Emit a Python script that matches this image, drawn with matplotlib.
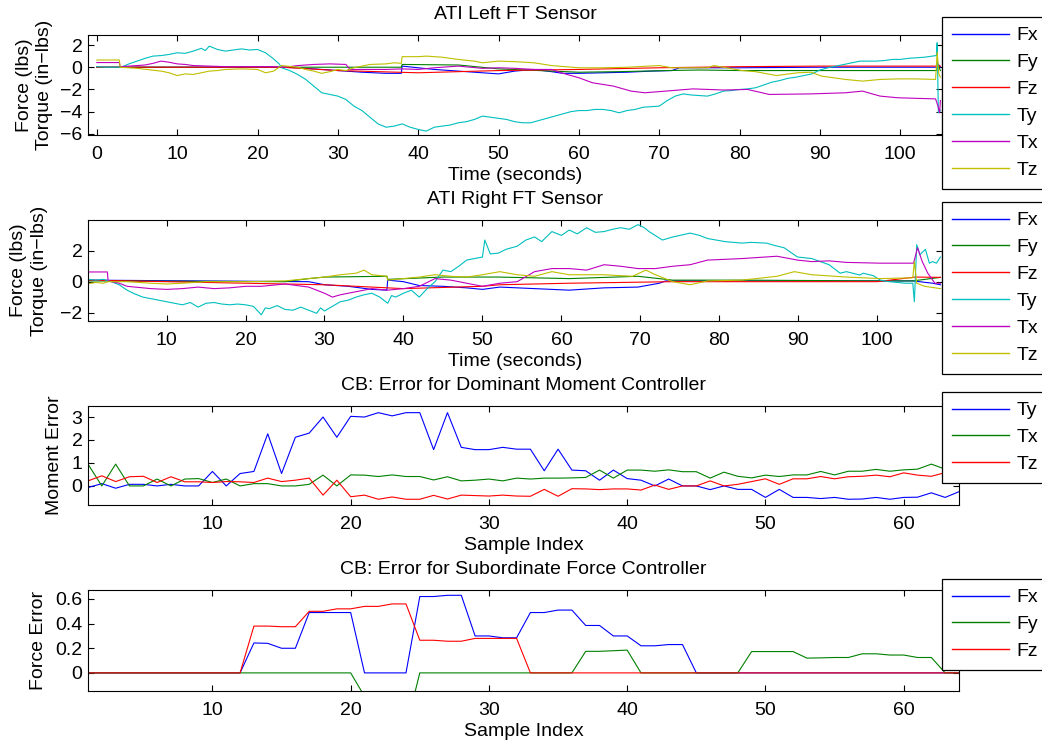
import matplotlib
matplotlib.use("Agg")
import matplotlib.pyplot as plt
import numpy as np

plt.rcParams['font.family'] = ['Liberation Sans', 'DejaVu Sans']
plt.rcParams['font.size'] = 14

# MATLAB default line colours
C_B = (0, 0, 1)
C_G = (0, 0.5, 0)
C_R = (1, 0, 0)
C_C = (0, 0.75, 0.75)
C_M = (0.75, 0, 0.75)
C_Y = (0.75, 0.75, 0)

# ---------------- ATI Left FT sensor ----------------
left_fx_t = [0, 23, 25, 28, 30, 33, 36, 37.9, 38, 40, 42, 45, 48, 50, 52, 54.4, 56.6, 58, 60, 63, 66, 69, 71.6, 72.5, 80, 90, 100, 104.5, 104.7, 105]
left_fx = [0, 0, -0.05, -0.2, -0.3, -0.45, -0.55, -0.55, 0.1, -0.05, -0.2, -0.35, -0.5, -0.6, -0.35, -0.2, -0.4, -0.55, -0.55, -0.5, -0.45, -0.35, -0.3, -0.05, -0.05, 0, 0, 0, 0.3, 0]
left_fy_t = [0, 37.9, 38, 45, 50, 55, 60, 65, 71, 75, 80, 104.5, 104.7, 105]
left_fy = [0, 0, 0.25, 0.2, -0.15, -0.3, -0.45, -0.4, -0.3, -0.25, -0.3, -0.3, 0.2, -0.3]
left_fz_t = [0, 23, 30, 35, 40, 45, 50, 60, 70, 80, 90, 100, 105]
left_fz = [0, 0, -0.3, -0.4, -0.5, -0.4, -0.3, -0.2, -0.05, 0.05, 0.1, 0.1, 0.1]
left_ty_t = [0, 1, 2, 3, 4, 5, 6, 7, 8, 9, 10, 11, 12, 13, 13.5, 14, 15, 16, 17, 18, 19, 20, 21, 22, 22.7,
             23, 24, 25, 26, 27, 28, 29, 30, 31, 32, 33, 34, 35, 36, 37, 38, 39, 40, 41, 42, 43, 44, 45,
             46, 47, 48, 49, 50, 51, 52, 53, 54, 55, 56, 57, 58, 59, 60, 61, 62, 63, 64, 65, 66, 67, 68,
             69, 70, 71, 72, 73, 74, 75, 76, 77, 78, 79, 80, 81, 82, 83, 84, 85, 86, 87, 88, 89, 90, 91,
             92, 93, 94, 95, 96, 97, 98, 99, 100, 101, 102, 103, 104, 104.5, 104.6, 104.75, 105]
left_ty = [0.05, 0.0, 0.0, 0.0, 0.3, 0.55, 0.8, 1.0, 1.05, 1.15, 1.3, 1.25, 1.45, 1.7, 1.5, 1.9, 1.6, 1.45, 1.55, 1.65, 1.55, 1.6, 1.3, 0.75, 0.3,
           -0.05, -0.3, -0.65, -1.1, -1.7, -2.3, -2.45, -2.6, -2.9, -3.5, -3.9, -4.5, -5.1, -5.4, -5.3, -5.1, -5.4, -5.6, -5.75, -5.4, -5.3, -5.2, -5.0,
           -4.9, -4.7, -4.4, -4.5, -4.6, -4.7, -4.9, -5.0, -5.0, -4.8, -4.6, -4.4, -4.2, -4.0, -3.9, -3.9, -3.8, -3.8, -3.9, -4.1, -3.9, -3.8, -3.6,
           -3.55, -3.5, -3.0, -2.6, -2.4, -2.5, -2.55, -2.6, -2.4, -2.15, -2.1, -2.0, -1.95, -1.85, -1.6, -1.35, -1.2, -1.0, -0.9, -0.75, -0.6, -0.25, -0.05,
           0.1, 0.25, 0.4, 0.55, 0.55, 0.55, 0.6, 0.7, 0.7, 0.8, 0.85, 0.9, 1.0, 1.05, 2.2, -4.1, -3.9]
left_tx_t = [0, 2.8, 2.9, 4, 6, 7, 8, 9, 10, 11, 12, 14, 16, 18, 20, 22, 23, 24, 25, 27, 29, 31, 31.5, 34, 36, 38, 40, 42, 45, 48, 50,
             52, 54.4, 56.6, 57.8, 60, 61.7, 64.3, 66.5, 68.2, 70.8, 74.2, 78, 81, 83.7, 88.9, 93.2, 95.3, 97.5, 99.7, 102, 104.4, 104.7, 104.9, 105]
left_tx = [0.42, 0.42, 0.05, 0.1, 0.2, 0.35, 0.55, 0.45, 0.3, 0.25, 0.15, 0.1, 0.05, 0.05, 0.05, 0.05, 0.0, 0.05, 0.15, 0.25, 0.3, 0.25, -0.2, -0.2, -0.2, -0.15, -0.2, -0.05, 0.1, -0.1, -0.05,
           -0.1, -0.2, -0.2, -0.5, -0.95, -1.4, -1.7, -2.15, -2.3, -2.15, -1.95, -2.05, -2.0, -2.45, -2.4, -2.3, -2.15, -2.6, -2.75, -2.8, -2.85, -3.5, -4.1, -3.0]
left_tz_t = [0, 2.8, 2.9, 5, 8, 9, 10, 11, 12, 13, 14, 15, 16, 18, 20, 21, 22, 23, 25, 26, 27, 28, 29, 30, 31, 32, 34, 36, 37, 37.9, 38,
             40, 41, 43, 45, 47, 48, 50, 52, 54.4, 56.6, 60, 63, 66, 70, 71.6, 76, 76.8, 78, 80.3, 82, 84.6, 87.2, 88.9, 90.2, 93.2, 95.3,
             97.5, 99.7, 102, 104.4, 104.6, 104.8, 105]
left_tz = [0.65, 0.65, 0.0, -0.1, -0.35, -0.5, -0.75, -0.6, -0.65, -0.5, -0.35, -0.3, -0.2, -0.15, -0.2, -0.5, -0.35, 0.15, 0.0, -0.2, -0.35, -0.55, -0.4, -0.2, -0.3, -0.05, 0.25, 0.3, 0.4, 0.35, 0.95,
           0.95, 1.0, 0.9, 0.7, 0.55, 0.4, 0.55, 0.5, 0.4, 0.15, -0.05, -0.05, 0.0, 0.15, -0.05, -0.05, 0.15, 0.0, -0.3, -0.4, -0.75, -0.5, -0.45, -0.8, -1.1, -1.25,
           -1.1, -1.05, -1.05, -1.1, 1.35, -0.6, -0.9]

# ---------------- ATI Right FT sensor ----------------
right_fx_t = [0.05, 28, 30, 33, 36, 37.9, 38, 40, 42, 45, 48, 50, 52.2, 56.6, 61, 65.4, 69.7, 72.4, 73.2, 100, 104.5, 107, 108]
right_fx = [0.1, 0.0, -0.2, -0.3, -0.5, -0.55, 0.1, 0.0, -0.25, -0.3, -0.4, -0.5, -0.35, -0.45, -0.55, -0.4, -0.35, -0.1, 0.05, 0.05, 0.05, -0.1, -0.2]
right_fy_t = [0.05, 25, 28, 30, 37.9, 38, 45, 50, 52, 61, 69.7, 74.1, 82.9, 100, 104.5, 108]
right_fy = [0.05, 0.0, 0.2, 0.3, 0.35, 0.15, 0.3, 0.3, 0.3, 0.2, 0.35, 0.1, 0.1, 0.05, 0.05, 0.28]
right_fz_t = [0.05, 20, 30, 40, 50, 52.2, 61, 74.1, 100, 104.8, 108]
right_fz = [0.1, -0.1, -0.2, -0.45, -0.3, -0.2, -0.1, 0.0, 0.0, 0.3, 0.28]
right_ty_t = [0.05, 1, 2, 3, 4, 5, 6, 7, 8, 9, 10, 11, 12, 13, 14, 15, 16, 17, 18, 19, 20, 21, 22, 22.5, 23, 24, 25, 26, 27, 28,
              29, 29.5, 30, 31, 32, 33, 34, 35, 36, 37, 38, 38.5, 39, 40, 41, 42, 43, 44, 45, 46, 47, 48, 49, 50, 50.3, 51,
              52, 53, 54.4, 55.5, 56.6, 57.5, 58.8, 60, 61, 62, 63.2, 64.3, 65.4, 66.5, 67.5, 68.6, 69.7, 70.5, 71.1, 72.8,
              74.1, 75, 76.3, 77.5, 78.5, 80.7, 82.9, 84, 86, 87, 88.2, 89.9, 91.7, 93.9, 95.3, 96.1, 97.8, 98.2, 99.5, 100.4,
              101.5, 103.6, 104.5, 104.7, 105.0, 105.4, 106.1, 106.6, 107, 107.5, 108]
right_ty = [0.15, 0.1, 0.15, 0.0, -0.2, -0.55, -0.8, -1.0, -1.1, -1.2, -1.3, -1.4, -1.5, -1.35, -1.65, -1.4, -1.35, -1.45, -1.5, -1.45, -1.5, -1.6, -2.15, -1.7, -1.75, -1.55, -1.8, -1.85, -1.65, -1.85,
            -2.05, -1.7, -1.9, -1.6, -1.3, -1.2, -1.0, -0.85, -0.75, -1.0, -1.4, -0.9, -1.0, -0.75, -0.55, -1.0, -0.45, 0.0, 0.75, 0.65, 1.0, 1.4, 1.5, 1.6, 2.7, 1.8,
            1.85, 2.1, 2.3, 2.7, 2.9, 2.6, 3.25, 3.0, 3.35, 3.1, 3.5, 3.2, 3.25, 3.4, 3.5, 3.4, 3.7, 3.5, 3.25, 2.7,
            2.9, 3.0, 3.15, 3.0, 2.8, 2.6, 2.5, 2.55, 2.5, 2.35, 2.2, 1.6, 1.5, 1.1, 0.55, 0.65, 0.43, 0.55, 0.39, 0.1,
            0.0, -0.1, -0.1, -1.3, 2.4, 1.75, 2.1, 1.2, 1.3, 1.2, 1.6]
right_tx_t = [0.05, 2.5, 2.6, 4, 5, 6, 8, 10, 12, 14, 16, 18, 20, 22, 25, 28, 30, 31, 32, 34, 36, 38, 40, 42, 44, 46, 48, 50,
              52.2, 54.4, 56.6, 58.8, 61, 63.2, 65.4, 67.5, 69.7, 71.9, 74.1, 76.3, 78.5, 82.9, 87.3, 89.9, 91.7, 93.9, 96.1,
              100.4, 104.6, 105.1, 105.7, 106.4, 107.3, 108]
right_tx = [0.63, 0.63, 0.05, -0.1, -0.3, -0.35, -0.45, -0.5, -0.45, -0.35, -0.45, -0.4, -0.3, -0.3, -0.15, -0.35, -0.75, -1.0, -0.85, -0.65, -0.45, -0.55, -0.45, -0.3, 0.2, 0.1, -0.1, -0.3,
            -0.1, 0.0, 0.65, 0.85, 0.85, 0.75, 1.1, 1.0, 0.85, 0.85, 1.0, 1.1, 1.4, 1.5, 1.65, 1.4, 1.3, 1.35, 1.25,
            1.2, 1.2, 2.2, 1.3, 0.55, -0.1, -0.1]
right_tz_t = [0.05, 1, 2, 2.6, 5, 8, 10, 12, 15, 20, 25, 28, 30, 32, 34, 35, 36, 37.9, 38, 40, 42, 44, 46, 48, 50,
              52.2, 54.4, 56.6, 58.8, 61, 65.4, 69, 70.7, 71.9, 74.1, 76.3, 78.5, 82.9, 87.3, 89.5, 91.7, 96.1, 100.4,
              104.5, 104.7, 105.0, 106, 108]
right_tz = [-0.13, -0.05, -0.1, 0.0, 0.0, -0.1, -0.15, -0.1, 0.0, 0.0, 0.05, 0.2, 0.3, 0.45, 0.55, 0.75, 0.45, 0.35, 0.1, 0.2, 0.3, 0.45, 0.35, 0.3, 0.45,
            0.65, 0.45, 0.35, 0.65, 0.45, 0.45, 0.35, 0.75, 0.45, 0.0, -0.2, 0.05, 0.1, 0.35, 0.65, 0.45, 0.3, 0.2,
            0.25, 1.3, -0.1, -0.3, -0.45]

# ---------------- controller errors (per sample) ----------------
samples = np.arange(1, 65)
moment_ty = [-0.07, 0.1, -0.1, 0.07, 0.07, 0, 0.07, 0, 0, 0.63, 0, 0.54, 0.63, 2.27, 0.54, 2.12, 2.3, 3.0, 2.12, 3.03,
             3.0, 3.19, 3.05, 3.19, 3.19, 1.58, 3.19, 1.68, 1.58, 1.58, 1.68, 1.6, 1.6, 0.66, 1.6, 0.69, 0.66, 0.25, 0.69, 0.32,
             0.25, 0, 0.3, 0, 0, -0.16, 0, -0.15, -0.15, -0.5, -0.15, -0.5, -0.5, -0.55, -0.5, -0.58, -0.57, -0.5, -0.58, -0.5,
             -0.49, -0.3, -0.5, -0.25]
moment_tx = [0.95, 0, 0.95, 0, 0, 0.3, 0, 0.3, 0.32, 0.15, 0.3, 0, 0.1, 0.1, 0, 0, 0.07, 0.47, 0, 0.48,
             0.47, 0.41, 0.48, 0.41, 0.41, 0.26, 0.4, 0.22, 0.25, 0.3, 0.22, 0.34, 0.3, 0.34, 0.34, 0.35, 0.37, 0.69, 0.34, 0.69,
             0.69, 0.64, 0.7, 0.62, 0.62, 0.34, 0.6, 0.42, 0.35, 0.47, 0.41, 0.48, 0.48, 0.63, 0.48, 0.64, 0.64, 0.72, 0.64, 0.7,
             0.73, 0.95, 0.73, 0.75]
moment_tz = [0.22, 0.44, 0.19, 0.4, 0.42, 0.15, 0.4, 0.18, 0.18, 0.15, 0.19, 0.18, 0.15, 0.34, 0.19, 0.25, 0.34, -0.4, 0.25, -0.47,
             -0.4, -0.58, -0.48, -0.58, -0.58, -0.41, -0.57, -0.4, -0.42, -0.44, -0.4, -0.44, -0.45, -0.15, -0.45, -0.12, -0.13, -0.16, -0.13, -0.13,
             -0.18, 0.04, -0.15, 0, 0, 0.22, 0, 0.07, 0.19, 0.31, 0.07, 0.31, 0.31, 0.41, 0.31, 0.4, 0.42, 0.47, 0.4, 0.57,
             0.47, 0.42, 0.58, 0.5]

force_fx = [0] * 12 + [0.243, 0.24, 0.2, 0.2, 0.49, 0.49, 0.49, 0.49, 0, 0, 0, 0, 0.62, 0.62, 0.63, 0.63, 0.3, 0.3,
                       0.285, 0.285, 0.49, 0.49, 0.51, 0.51, 0.385, 0.385, 0.3, 0.3, 0.22, 0.22, 0.23, 0.23] + [0] * 20
force_fy = [0] * 20 + [-0.19, -0.35, -0.4, -0.45] + [0] * 12 + [0.175, 0.175, 0.18, 0.185] + [0] * 8 + \
           [0.173, 0.173, 0.173, 0.173, 0.12, 0.122, 0.125, 0.125, 0.155, 0.155, 0.145, 0.145, 0.125, 0.125, 0, 0]
force_fz = [0] * 12 + [0.38, 0.38, 0.375, 0.375, 0.5, 0.5, 0.52, 0.52, 0.54, 0.54, 0.56, 0.56, 0.265, 0.265, 0.257, 0.257,
                       0.28, 0.28, 0.28, 0.28] + [0] * 32

FT_LABELS = ['Fx', 'Fy', 'Fz', 'Ty', 'Tx', 'Tz']
FT_COLORS = [C_B, C_G, C_R, C_C, C_M, C_Y]

W, H = 1042, 744
fig = plt.figure(figsize=(W / 100, H / 100), dpi=100)


def box(left, top, right, bottom):
    return [left / W, 1 - bottom / H, (right - left) / W, (bottom - top) / H]


def style(ax):
    ax.tick_params(direction='in', top=True, right=True, length=4, width=0.8, labelsize=14)
    ax.tick_params(axis='x', pad=8)
    ax.tick_params(axis='y', pad=4)
    for s in ax.spines.values():
        s.set_linewidth(0.8)


def add_legend(ax, top):
    leg = ax.legend(loc='upper left', bbox_to_anchor=(942 / W, 1 - top / H), bbox_transform=fig.transFigure,
                    fontsize=14, frameon=True, fancybox=False, framealpha=1, edgecolor='black',
                    borderpad=0.5, labelspacing=0.48, handlelength=2.95, handletextpad=0.4, borderaxespad=0)
    leg.get_frame().set_linewidth(0.9)
    for h in leg.get_lines():
        h.set_linewidth(1.0)
    return leg


lw = 0.8
ft_ylabel = 'Force (lbs)\nTorque (in\u2212lbs)'

# Left sensor
ax1 = fig.add_axes(box(88, 35, 942, 135))
for t, v, lab, c in zip([left_fx_t, left_fy_t, left_fz_t, left_ty_t, left_tx_t, left_tz_t],
                        [left_fx, left_fy, left_fz, left_ty, left_tx, left_tz], FT_LABELS, FT_COLORS):
    ax1.plot(t, v, color=c, lw=lw, label=lab)
ax1.set_xlim(-1.1, 105.2)
ax1.set_ylim(-6.1, 2.9)
ax1.set_xticks(np.arange(0, 101, 10))
ax1.set_yticks([-6, -4, -2, 0, 2])
ax1.set_title('ATI Left FT Sensor', fontsize=14, pad=11.5)
ax1.set_xlabel('Time (seconds)', labelpad=3)
ax1.set_ylabel(ft_ylabel, labelpad=5, linespacing=1.25)
style(ax1)
add_legend(ax1, 17)

# Right sensor
ax2 = fig.add_axes(box(88, 220, 942, 321))
for t, v, lab, c in zip([right_fx_t, right_fy_t, right_fz_t, right_ty_t, right_tx_t, right_tz_t],
                        [right_fx, right_fy, right_fz, right_ty, right_tx, right_tz], FT_LABELS, FT_COLORS):
    ax2.plot(t, v, color=c, lw=lw, label=lab)
ax2.set_xlim(0.05, 108.2)
ax2.set_ylim(-2.55, 4.0)
ax2.set_xticks(np.arange(10, 101, 10))
ax2.set_yticks([-2, 0, 2])
ax2.set_title('ATI Right FT Sensor', fontsize=14, pad=11.5)
ax2.set_xlabel('Time (seconds)', labelpad=3)
ax2.set_ylabel(ft_ylabel, labelpad=9, linespacing=1.25)
style(ax2)
add_legend(ax2, 202)

# Dominant moment controller error
ax3 = fig.add_axes(box(88, 406, 959, 505))
ax3.plot(samples, moment_ty, color=C_B, lw=lw, label='Ty')
ax3.plot(samples, moment_tx, color=C_G, lw=lw, label='Tx')
ax3.plot(samples, moment_tz, color=C_R, lw=lw, label='Tz')
ax3.set_xlim(1, 64)
ax3.set_ylim(-0.83, 3.48)
ax3.set_xticks(np.arange(10, 61, 10))
ax3.set_yticks([0, 1, 2, 3])
ax3.set_title('CB: Error for Dominant Moment Controller', fontsize=14, pad=11.5)
ax3.set_xlabel('Sample Index', labelpad=3)
ax3.set_ylabel('Moment Error', labelpad=6)
style(ax3)
add_legend(ax3, 392)

# Subordinate force controller error
ax4 = fig.add_axes(box(88, 590, 959, 691))
ax4.plot(samples, force_fx, color=C_B, lw=lw, label='Fx')
ax4.plot(samples, force_fy, color=C_G, lw=lw, label='Fy')
ax4.plot(samples, force_fz, color=C_R, lw=lw, label='Fz')
ax4.set_xlim(1, 64)
ax4.set_ylim(-0.147, 0.673)
ax4.set_xticks(np.arange(10, 61, 10))
ax4.set_yticks([0, 0.2, 0.4, 0.6])
ax4.set_yticklabels(['0', '0.2', '0.4', '0.6'])
ax4.set_title('CB: Error for Subordinate Force Controller', fontsize=14, pad=11.5)
ax4.set_xlabel('Sample Index', labelpad=3)
ax4.set_ylabel('Force Error', labelpad=6)
style(ax4)
add_legend(ax4, 579)

fig.savefig('out.png', dpi=100)
